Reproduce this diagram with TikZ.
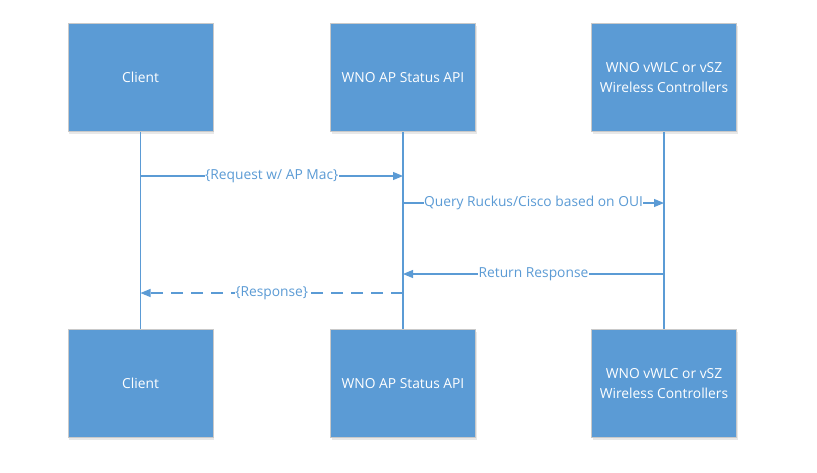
\documentclass[tikz,border=0pt]{standalone}
\usepackage{fontspec}
\setmainfont{Open Sans}
\usepackage{xcolor}
\usepackage{tikz}
\usetikzlibrary{positioning,arrows.meta,shadows}
\definecolor{boxblue}{HTML}{5B9BD5}
\definecolor{boxedge}{HTML}{C9C9C9}
\tikzset{main node/.style={rectangle,fill=boxblue,draw=boxedge,line width=0.8pt,minimum width=145pt,minimum height=108pt,inner sep=0pt,text=white,align=center,font=\fontsize{13.8}{20}\selectfont,drop shadow={opacity=0.18,shadow xshift=1pt,shadow yshift=-2pt}},
msg/.style={color=boxblue,line width=1.1pt,-{Triangle[length=10pt,width=8pt]}},
life/.style={draw=boxblue,line width=1.1pt},
lbl/.style={fill=white,inner sep=0.5pt,text=boxblue,font=\fontsize{13.8}{16}\selectfont},}

\begin{document}
\begin{tikzpicture}[x=1pt,y=-1pt]
    \useasboundingbox[fill=white] (0,0) rectangle (817,472);

    \node[main node] (c1) at (140.5,77.5) {Client};
    \node[main node] (a1) at (403,77.5) {WNO AP Status API};
    \node[main node] (w1) at (664,77.5) {WNO vWLC or vSZ\\Wireless Controllers};

    \node[main node] (c2) at (140.5,383.5) {Client};
    \node[main node] (a2) at (403,383.5) {WNO AP Status API};
    \node[main node] (w2) at (664,383.5) {WNO vWLC or vSZ\\Wireless Controllers};

    \path[life]
    (c1) -- (c2)
    (a1) -- (a2)
    (w1) -- (w2)
    ;

    \coordinate (c-req) at (c1.south |- 0,176);
    \coordinate (a-req) at (a1.south |- 0,176);
    \coordinate (a-qry) at (a1.south |- 0,203);
    \coordinate (w-qry) at (w1.south |- 0,203);
    \coordinate (w-ret) at (w1.south |- 0,274);
    \coordinate (a-ret) at (a1.south |- 0,274);
    \coordinate (a-rsp) at (a1.south |- 0,293);
    \coordinate (c-rsp) at (c1.south |- 0,293);

    \path
    (c-req) edge[msg] node[lbl] {\{Request w/ AP Mac\}} (a-req)
    (a-qry) edge[msg] node[lbl] {Query Ruckus/Cisco based on OUI} (w-qry)
    (w-ret) edge[msg] node[lbl] {Return Response} (a-ret)
    (a-rsp) edge[msg,dash pattern=on 12pt off 8pt] node[lbl] {\{Response\}} (c-rsp)
    ;
\end{tikzpicture}
\end{document}
